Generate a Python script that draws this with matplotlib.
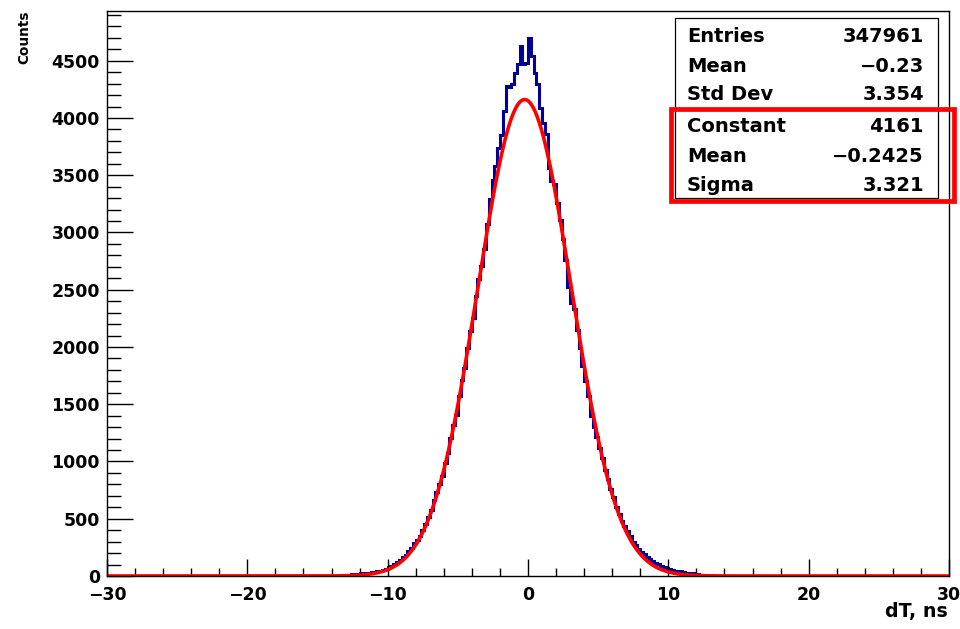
import numpy as np
import matplotlib
matplotlib.use("Agg")
import matplotlib.pyplot as plt
from matplotlib.patches import Rectangle
from matplotlib.ticker import MultipleLocator

plt.rcParams['font.family'] = ['DejaVu Sans']
plt.rcParams['font.weight'] = 'bold'

# histogram: 0.2 ns bins, non-empty range starts at -13.0 ns
bin_width = 0.2
first_edge = -13.0
counts = [
    12, 8, 15, 10, 18, 22, 20, 27, 30, 36,
    33, 42, 48, 55, 62, 78, 85, 104, 118, 140,
    165, 182, 215, 248, 290, 318, 352, 398, 450, 512,
    575, 660, 735, 806, 870, 990, 1070, 1205, 1320, 1410,
    1575, 1712, 1815, 1995, 2140, 2250, 2445, 2590, 2710, 2860,
    3070, 3290, 3460, 3580, 3740, 3850, 4060, 4280, 4270, 4300,
    4390, 4470, 4630, 4470,
    4480, 4700, 4540, 4390, 4300, 4090, 3960, 3860, 3560, 3450,
    3420, 3260, 3110, 2940, 2760, 2520, 2380, 2330, 2150, 1990,
    1830, 1700, 1570, 1400, 1300, 1210, 1120, 1030, 925, 850,
    760, 690, 600, 545, 480, 435, 390, 345, 300, 268,
    240, 212, 190, 165, 148, 130, 115, 102, 90, 82,
    74, 64, 56, 48, 44, 40, 35, 30, 27, 24,
    20, 14, 8, 4,
]

# gaussian fit parameters
fit_constant = 4161
fit_mean = -0.2425
fit_sigma = 3.321

stat_labels = ["Entries", "Mean", "Std Dev", "Constant", "Mean", "Sigma"]
stat_values = ["347961", "\u22120.23", "3.354", "4161", "\u22120.2425", "3.321"]

x_min, x_max = -30, 30

fig = plt.figure(figsize=(9.6, 6.29), dpi=100)
ax = fig.add_axes([107 / 960, 1 - 576 / 629, 842 / 960, 565.3 / 629])

edges = np.arange(x_min, x_max + bin_width / 2, bin_width)
full = np.zeros(len(edges) - 1)
start = int(round((first_edge - x_min) / bin_width))
full[start:start + len(counts)] = counts
ax.stairs(full, edges, color="#000099", linewidth=2.2, baseline=None)

xf = np.linspace(x_min, x_max, 1200)
yf = fit_constant * np.exp(-0.5 * ((xf - fit_mean) / fit_sigma) ** 2)
ax.plot(xf, yf, color="#ff0000", linewidth=2.6)

ax.set_xlim(x_min, x_max)
ax.set_ylim(0, 4937)
ax.xaxis.set_major_locator(MultipleLocator(10))
ax.xaxis.set_minor_locator(MultipleLocator(2))
ax.yaxis.set_major_locator(MultipleLocator(500))
ax.yaxis.set_minor_locator(MultipleLocator(100))
ax.tick_params(axis="x", which="major", direction="in", length=12.5, width=1, labelsize=12.5, pad=7)
ax.tick_params(axis="x", which="minor", direction="in", length=6, width=1)
ax.tick_params(axis="y", which="major", direction="in", length=19, width=1, labelsize=12.5, pad=5)
ax.tick_params(axis="y", which="minor", direction="in", length=10, width=1)
for lab in ax.get_xticklabels() + ax.get_yticklabels():
    lab.set_fontweight("bold")
for s in ax.spines.values():
    s.set_linewidth(1)

fig.text(948 / 960, 1 - 611 / 629, "dT, ns", ha="right", va="center", fontsize=13.7, fontweight="bold")
fig.text(24 / 960, 1 - 11 / 629, "Counts", ha="center", va="top", rotation=90, fontsize=9.8,
         fontweight="bold")

# stats box
box = Rectangle((675 / 960, 1 - 198 / 629), 263 / 960, 180 / 629, transform=fig.transFigure,
                facecolor="white", edgecolor="black", linewidth=0.9, zorder=5)
fig.patches.append(box)
row_y = [37, 66, 95, 126, 156, 185]
for lab, val, yy in zip(stat_labels, stat_values, row_y):
    fig.text(687 / 960, 1 - yy / 629, lab, ha="left", va="center", fontsize=14, fontweight="bold", zorder=6)
    fig.text(924 / 960, 1 - yy / 629, val, ha="right", va="center", fontsize=14, fontweight="bold", zorder=6)

# red highlight around the fit parameters
hl = Rectangle((671 / 960, 1 - 201 / 629), 283 / 960, 92 / 629, transform=fig.transFigure,
               facecolor="none", edgecolor="#ff0000", linewidth=3.4, zorder=7)
fig.patches.append(hl)

fig.savefig("out.png", dpi=100)
